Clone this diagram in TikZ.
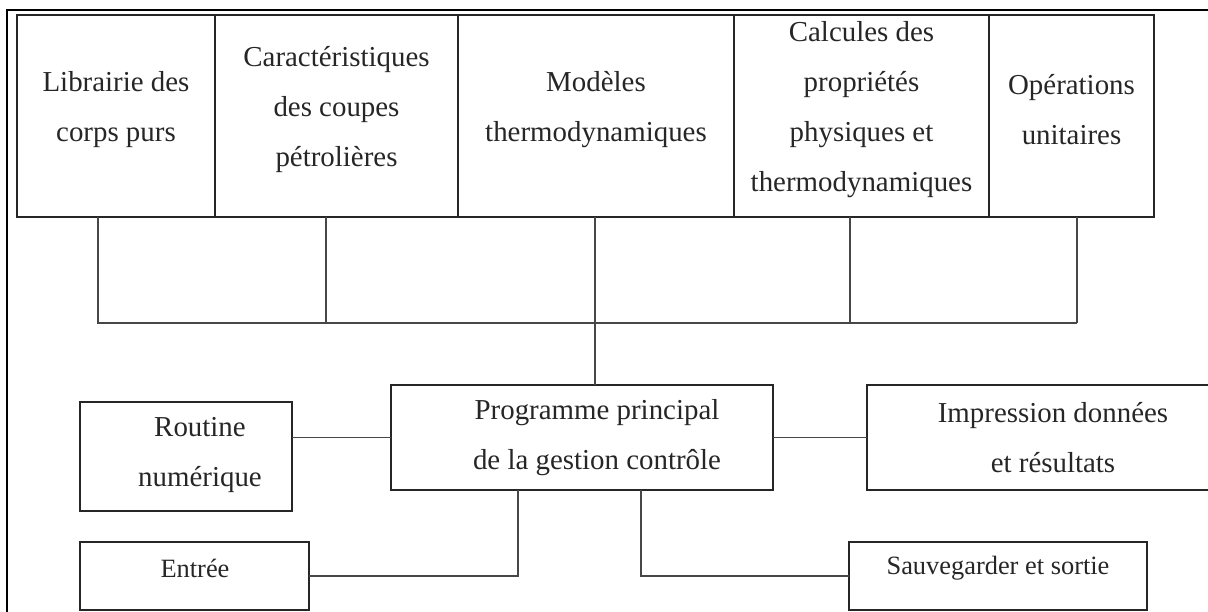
\documentclass[tikz,border=0pt]{standalone}
\usepackage{fontspec}
\setmainfont{Liberation Serif}
\begin{document}
\begin{tikzpicture}[x=1pt,y=-1pt,
  box/.style={draw=black!85, line width=1.9pt, inner sep=0pt, outer sep=0pt},
  txt/.style={align=center, inner sep=0pt, text=black!85, font=\fontsize{28.9}{50}\selectfont},
  smalltxt/.style={align=center, inner sep=0pt, text=black!85, font=\fontsize{26.4}{48}\selectfont},
  conn/.style={draw=black!72, line width=1.9pt},
  frame/.style={draw=black, line width=2.6pt}]
\useasboundingbox (0,0) rectangle (1208,612);
\clip (0,0) rectangle (1208,612);

% outer frame (top and left sides)
\draw[frame] (7,612) -- (7,10) -- (1210,10);

% top row of modules
\node[box, minimum width=198, minimum height=202] (lib) at (116,116) {};
\node[box, minimum width=243, minimum height=202] (car) at (336.5,116) {};
\node[box, minimum width=276, minimum height=202] (mod) at (596,116) {};
\node[box, minimum width=255, minimum height=202] (cal) at (861.5,116) {};
\node[box, minimum width=165, minimum height=202] (ope) at (1071.5,116) {};

\node[txt] (libt) at (116,110) {Librairie des\\corps purs};
\node[txt] (cart) at (336.5,110) {Caractéristiques\\des coupes\\pétrolières};
\node[txt] (modt) at (596,110) {Modèles\\thermodynamiques};
\node[txt] (calt) at (861.5,110) {Calcules des\\propriétés\\physiques et\\thermodynamiques};
\node[txt] (opet) at (1071.5,110) {Opérations\\unitaires};

% lower modules
\node[box, minimum width=382, minimum height=105] (prog) at (582,437.5) {};
\node[box, minimum width=212, minimum height=109] (rout) at (186,456.5) {};
\node[box, minimum width=348, minimum height=105] (imp) at (1041,437.5) {};
\node[box, minimum width=229, minimum height=68] (ent) at (194.5,576) {};
\node[box, minimum width=298, minimum height=68] (sau) at (998,576) {};

\node[txt] (progt) at (597,437.5) {Programme principal\\de la gestion contrôle};
\node[txt] (routt) at (200,455.5) {Routine\\numérique};
\node[txt] (impt) at (1053,437.5) {Impression données\\et résultats};
\node[smalltxt] (entt) at (195,568) {Entrée};
\node[smalltxt] (saut) at (998,568) {Sauvegarder et sortie};

% bus joining the top modules
\coordinate (busL) at (98,323);
\coordinate (busR) at (1077,323);
\draw[conn] ([xshift=-18pt]lib.south) |- (busR);
\draw[conn] (ope.south -| busR) -- (busR);
\draw[conn] ([xshift=-10.5pt]car.south) -- ([xshift=-10.5pt]car.south |- busL);
\draw[conn] ([xshift=-11.5pt]cal.south) -- ([xshift=-11.5pt]cal.south |- busL);
\draw[conn] ([xshift=-1pt]mod.south) -- ([xshift=-1pt]mod.south |- prog.north);

% links of the main program
\draw[conn] (prog.west) -- (prog.west -| rout.east);
\draw[conn] (prog.east) -- (imp.west);
\draw[conn] ([xshift=-64pt]prog.south) |- (ent.east);
\draw[conn] ([xshift=59pt]prog.south) |- (sau.west);
\end{tikzpicture}
\end{document}
